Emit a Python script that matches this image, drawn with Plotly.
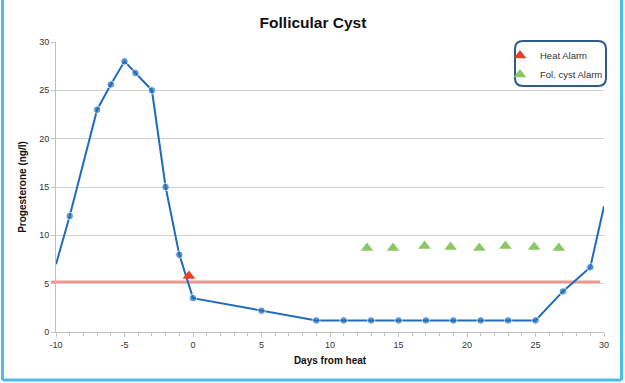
import plotly.graph_objects as go

# Progesterone series
days = [-10, -9, -7, -6, -5, -4.2, -3, -2, -1, 0, 5, 9, 11, 13, 15, 17, 19, 21, 23, 25, 27, 29, 30]
progesterone = [7, 12, 23, 25.6, 28, 26.8, 25, 15, 8, 3.5, 2.2, 1.2, 1.2, 1.2, 1.2, 1.2, 1.2, 1.2, 1.2, 1.2, 4.2, 6.7, 13]
# points drawn without a marker (line enters / leaves the plot)
edge_points = [-10, 30]

heat_alarm_x = [-0.3]
heat_alarm_y = [5.8]

cyst_alarm_x = [12.7, 14.6, 16.9, 18.8, 20.9, 22.8, 24.9, 26.7]
cyst_alarm_y = [8.7, 8.7, 8.9, 8.8, 8.7, 8.9, 8.8, 8.7]

threshold = 5.2

x_tickvals = [-10, -5, 0, 5, 10, 15, 20, 25, 30]
x_ticktext = ["-10", "-5", "0", "5", "10", "15", "20", "25", "30"]

title = "Follicular Cyst"
x_title = "Days from heat"
y_title = "Progesterone (ng/l)"

FONT = "Liberation Sans, Arial, sans-serif"
W, H = 625, 383
L, R, T, B = 56, 21, 42, 51
pw, ph = W - L - R, H - T - B


def px_x(p):
    return (p - L) / pw


def px_y(p):
    return (H - B - p) / ph


fig = go.Figure()

fig.add_trace(go.Scatter(
    x=days, y=progesterone, mode="lines+markers",
    line=dict(color="#1f6cbd", width=2),
    marker=dict(color="#1f6cbd", size=[0 if d in edge_points else 7.5 for d in days]),
    showlegend=False, hoverinfo="x+y",
))

fig.add_trace(go.Scatter(
    x=heat_alarm_x, y=heat_alarm_y, mode="markers", name="Heat Alarm",
    marker=dict(symbol="triangle-up", color="#ee3a26", size=11),
))
fig.add_trace(go.Scatter(
    x=cyst_alarm_x, y=cyst_alarm_y, mode="markers", name="Fol. cyst Alarm",
    marker=dict(symbol="triangle-up", color="#8cc766", size=11),
))

shapes = []
# threshold line
shapes.append(dict(type="line", xref="paper", yref="y", x0=px_x(51), x1=px_x(600),
                   y0=threshold, y1=threshold, line=dict(color="#f5968d", width=2.5), layer="below"))

# rounded legend box
x0, x1 = px_x(515), px_x(606)
y0, y1 = px_y(86), px_y(41)
rx, ry = 8 / pw, 8 / ph
path = (f"M {x0+rx},{y1} L {x1-rx},{y1} Q {x1},{y1} {x1},{y1-ry} "
        f"L {x1},{y0+ry} Q {x1},{y0} {x1-rx},{y0} L {x0+rx},{y0} "
        f"Q {x0},{y0} {x0},{y0+ry} L {x0},{y1-ry} Q {x0},{y1} {x0+rx},{y1} Z")
shapes.append(dict(type="path", xref="paper", yref="paper", path=path,
                   line=dict(color="#2d5c8c", width=2), fillcolor="white", layer="above"))

# outer light-blue frame
fx0, fx1 = px_x(2.5), px_x(621.5)
fyb = px_y(380)
fyt = px_y(-5)
for (ax, ay, bx, by) in [(fx0, fyt, fx0, fyb), (fx1, fyt, fx1, fyb), (fx0, fyb, fx1, fyb)]:
    shapes.append(dict(type="line", xref="paper", yref="paper", x0=ax, y0=ay, x1=bx, y1=by,
                       line=dict(color="#4cbdec", width=3)))

fig.update_layout(
    width=W, height=H,
    margin=dict(l=L, r=R, t=T, b=B),
    paper_bgcolor="white", plot_bgcolor="white",
    title=dict(text=f"<b>{title}</b>", x=313 / W, xanchor="center",
               y=1 - 23 / H, yanchor="middle", font=dict(family=FONT, size=15.5, color="#111")),
    font=dict(family=FONT, size=9, color="#333"),
    shapes=shapes,
    legend=dict(x=px_x(500), y=px_y(41), xanchor="left", yanchor="top",
                bgcolor="rgba(0,0,0,0)", borderwidth=0,
                font=dict(family=FONT, size=9.5, color="#333"),
                itemwidth=30, tracegroupgap=0),
    xaxis=dict(range=[-10, 30], tickvals=x_tickvals, ticktext=x_ticktext,
               showgrid=False, zeroline=False,
               showline=True, linecolor="#c0c0c0", linewidth=1,
               ticks="outside", ticklen=4, tickcolor="#c0c0c0",
               minor=dict(dtick=1, tick0=0, ticks="outside", ticklen=3, tickcolor="#c0c0c0"),
               tickfont=dict(family=FONT, size=9, color="#333"),
               title=dict(text=f"<b>{x_title}</b>", font=dict(family=FONT, size=10, color="#111"),
                          standoff=8)),
    yaxis=dict(range=[0, 30], dtick=5, showgrid=True, gridcolor="#d0d0d0", gridwidth=1,
               zeroline=False, showline=True, linecolor="#c0c0c0", linewidth=1,
               ticks="outside", ticklen=4, tickcolor="#c0c0c0",
               tickfont=dict(family=FONT, size=9, color="#333"),
               title=dict(text=f"<b>{y_title}</b>", font=dict(family=FONT, size=10, color="#111"),
                          standoff=10)),
)

fig.write_html("out.html", config={"displayModeBar": False},
               post_script="document.body.style.margin='0';")
